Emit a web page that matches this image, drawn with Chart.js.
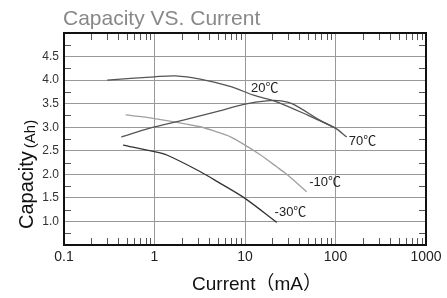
<!DOCTYPE html>
<html>
<head>
<meta charset="utf-8">
<script src="https://cdn.jsdelivr.net/npm/chart.js@4/dist/chart.umd.min.js"></script>
<style>
  body { margin: 0; background: #fff; }
  #wrap { width: 447px; height: 298px; }
</style>
</head>
<body>
<div id="wrap"><canvas id="chart" width="447" height="298"></canvas></div>
<script>
// Data (current in mA, capacity in Ah)
const xTicks = [0.1, 1, 10, 100, 1000];
const yTicks = [0.5, 1.0, 1.5, 2.0, 2.5, 3.0, 3.5, 4.0, 4.5, 5.0];

const t20X = [0.3, 1, 1.7, 3.2, 7, 12.4, 22.4, 50, 100];
const t20Y = [4.0, 4.07, 4.09, 4.02, 3.86, 3.68, 3.54, 3.25, 2.98];

const t70X = [0.43, 0.89, 2.08, 4.87, 10, 17.4, 25, 34, 67, 100, 133];
const t70Y = [2.79, 2.98, 3.15, 3.33, 3.49, 3.56, 3.56, 3.49, 3.15, 2.98, 2.79];

const tm10X = [0.48, 0.89, 3.18, 4.87, 6.82, 10, 14.6, 22.4, 28.9, 48];
const tm10Y = [3.26, 3.20, 3.01, 2.90, 2.80, 2.62, 2.42, 2.16, 2.0, 1.63];

const tm30X = [0.45, 1, 1.37, 3.18, 5, 10, 22.4];
const tm30Y = [2.62, 2.48, 2.41, 2.06, 1.84, 1.49, 0.98];

const curveLabels = ['20℃', '70℃', '-10℃', '-30℃'];
const curveLabelX = [16.5, 199, 76.6, 31.8];
const curveLabelY = [3.83, 2.69, 1.82, 1.19];

const toPoints = (xs, ys) => xs.map((x, i) => ({ x: x, y: ys[i] }));

function lineSet(label, xs, ys, color) {
  return {
    label: label,
    data: toPoints(xs, ys),
    showLine: true,
    borderColor: color,
    borderWidth: 1.3,
    pointRadius: 0,
    tension: 0.3,
    fill: false
  };
}

// Frame, minor ticks, curve labels and titles
const decorPlugin = {
  id: 'decor',
  afterDraw(chart) {
    const ctx = chart.ctx;
    const a = chart.chartArea;
    const xs = chart.scales.x;
    const ys = chart.scales.y;
    ctx.save();

    // minor ticks
    ctx.strokeStyle = '#555';
    ctx.lineWidth = 1;
    ctx.beginPath();
    for (let k = -1; k <= 2; k++) {
      for (let m = 2; m <= 9; m++) {
        const px = Math.round(xs.getPixelForValue(m * Math.pow(10, k))) + 0.5;
        ctx.moveTo(px, a.top); ctx.lineTo(px, a.top + 7);
        ctx.moveTo(px, a.bottom); ctx.lineTo(px, a.bottom - 7);
      }
    }
    for (let v = 0.75; v < 5; v += 0.5) {
      const py = Math.round(ys.getPixelForValue(v)) + 0.5;
      ctx.moveTo(a.left, py); ctx.lineTo(a.left + 7, py);
      ctx.moveTo(a.right, py); ctx.lineTo(a.right - 7, py);
    }
    ctx.stroke();

    // frame
    ctx.strokeStyle = '#111';
    ctx.lineWidth = 2;
    ctx.strokeRect(a.left, a.top, a.right - a.left, a.bottom - a.top);

    // curve labels
    ctx.fillStyle = '#222';
    ctx.font = "13px 'Liberation Sans', 'Noto Sans CJK SC'";
    ctx.textAlign = 'center';
    ctx.textBaseline = 'middle';
    curveLabels.forEach((t, i) => {
      ctx.fillText(t, xs.getPixelForValue(curveLabelX[i]), ys.getPixelForValue(curveLabelY[i]));
    });

    // chart title
    ctx.fillStyle = '#888';
    ctx.font = "21px 'Liberation Sans'";
    ctx.textAlign = 'left';
    ctx.textBaseline = 'alphabetic';
    ctx.fillText('Capacity VS. Current', 63, 25);

    // x axis title
    ctx.fillStyle = '#111';
    ctx.font = "19px 'Liberation Sans', 'Noto Sans CJK SC'";
    ctx.textAlign = 'center';
    ctx.fillText('Current（mA）', 257, 290);

    // y axis title
    ctx.translate(33, 229);
    ctx.rotate(-Math.PI / 2);
    ctx.textAlign = 'left';
    ctx.font = "20px 'Liberation Sans'";
    ctx.fillText('Capacity', 0, 0);
    const w = ctx.measureText('Capacity').width;
    ctx.font = "15px 'Liberation Sans'";
    ctx.fillText('(Ah)', w + 3, 2);

    ctx.restore();
  }
};

new Chart(document.getElementById('chart'), {
  type: 'scatter',
  data: {
    datasets: [
      lineSet('20℃', t20X, t20Y, '#555'),
      lineSet('70℃', t70X, t70Y, '#555'),
      lineSet('-10℃', tm10X, tm10Y, '#a0a0a0'),
      lineSet('-30℃', tm30X, tm30Y, '#333')
    ]
  },
  options: {
    responsive: false,
    animation: false,
    layout: { padding: { top: 33, right: 21, left: 0, bottom: 0 } },
    plugins: {
      legend: { display: false },
      tooltip: { enabled: false }
    },
    scales: {
      x: {
        type: 'logarithmic',
        min: 0.1,
        max: 1000,
        afterBuildTicks: (scale) => { scale.ticks = xTicks.map(v => ({ value: v })); },
        afterFit: (scale) => { scale.height = 53; },
        border: { display: false },
        grid: { color: '#999', lineWidth: 1, drawTicks: false },
        ticks: {
          padding: 4,
          color: '#222',
          font: { family: 'Liberation Sans', size: 14 },
          maxRotation: 0,
          autoSkip: false,
          callback: (v) => String(v)
        }
      },
      y: {
        type: 'linear',
        min: 0.5,
        max: 5.0,
        afterBuildTicks: (scale) => { scale.ticks = yTicks.map(v => ({ value: v })); },
        afterFit: (scale) => { scale.width = 64; },
        border: { display: false },
        grid: { color: '#999', lineWidth: 1, drawTicks: false },
        ticks: {
          padding: 5,
          color: '#333',
          font: { family: 'Liberation Sans', size: 12 },
          callback: (v) => (v >= 1 && v <= 4.5 ? v.toFixed(1) : '')
        }
      }
    }
  },
  plugins: [decorPlugin]
});
</script>
</body>
</html>
